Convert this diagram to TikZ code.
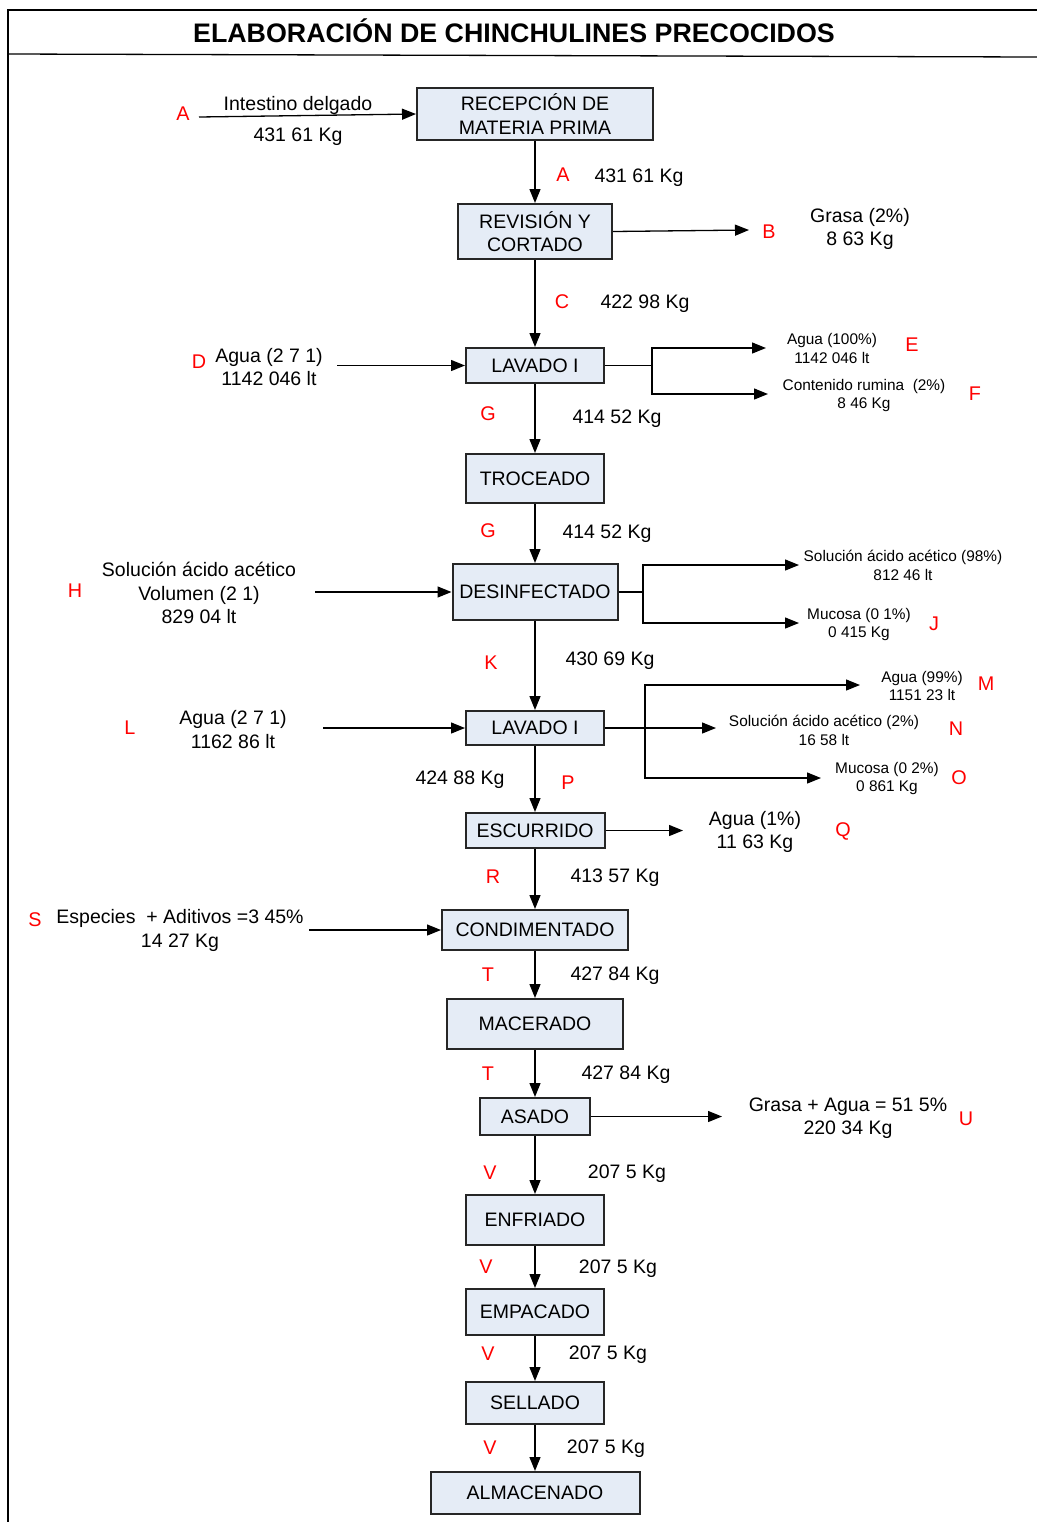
\documentclass[tikz,border=0pt]{standalone}
\usepackage{xcolor}
\usepackage{fontspec}
\setmainfont{Liberation Sans}
\usepackage{tikz}
\usetikzlibrary{arrows.meta}
\definecolor{cajafondo}{RGB}{229,236,246}

\begin{document}
\begin{tikzpicture}[x=0.5pt,y=0.5pt,yscale=-1,xscale=1,
        caja/.style={draw=black!85, line width=1pt, fill=cajafondo, inner sep=2pt, align=center, font=\fontsize{9.75}{11.7}\selectfont},
        texto/.style={inner sep=0.75pt, align=center, yshift=-1pt, font=\fontsize{9.75}{11.7}\selectfont},
        textochico/.style={inner sep=0.75pt, align=center, yshift=-1pt, font=\fontsize{7.7}{9.4}\selectfont},
        letra/.style={inner sep=0.75pt, text=red, yshift=-0.5pt, font=\fontsize{9.9}{11.7}\selectfont},
        flecha/.style={line width=0.65pt, -{Triangle[length=7pt,width=5.5pt]}},
        linea/.style={line width=0.65pt}]
        \useasboundingbox (0,0) rectangle (1037,1522);
        \draw [linea] (8,1522) -- (8,10) -- (1037,10) ;
        \draw [linea] (8,54) -- (1037,57) ;
        \draw (514,31) node [font=\fontsize{13.4}{16}\selectfont\bfseries] (titulo) {ELABORACIÓN DE CHINCHULINES PRECOCIDOS};

        \draw (535,114) node [caja, minimum width=118pt, minimum height=26pt] (rec) {RECEPCIÓN DE\\MATERIA PRIMA};
        \draw (535,231.5) node [caja, minimum width=77pt, minimum height=27.5pt] (rev) {REVISIÓN Y\\CORTADO};
        \draw (535,365.5) node [caja, minimum width=69pt, minimum height=17.5pt] (lav1) {LAVADO I};
        \draw (535,478.5) node [caja, minimum width=69pt, minimum height=24.5pt] (tro) {TROCEADO};
        \draw (535,592) node [caja, minimum width=82.5pt, minimum height=28pt] (des) {DESINFECTADO};
        \draw (535,728) node [caja, minimum width=69pt, minimum height=17pt] (lav2) {LAVADO I};
        \draw (535,830.5) node [caja, minimum width=69.5pt, minimum height=17.5pt] (esc) {ESCURRIDO};
        \draw (535,930) node [caja, minimum width=93pt, minimum height=20pt] (con) {CONDIMENTADO};
        \draw (535,1024) node [caja, minimum width=88pt, minimum height=25pt] (mac) {MACERADO};
        \draw (535,1116.5) node [caja, minimum width=55pt, minimum height=18.5pt] (asa) {ASADO};
        \draw (535,1220) node [caja, minimum width=69pt, minimum height=25pt] (enf) {ENFRIADO};
        \draw (535,1312) node [caja, minimum width=69pt, minimum height=23pt] (emp) {EMPACADO};
        \draw (535,1403) node [caja, minimum width=69pt, minimum height=21pt] (sel) {SELLADO};
        \draw (535,1493) node [caja, minimum width=104.5pt, minimum height=21pt] (alm) {ALMACENADO};

        \draw [flecha] (rec.south) -- (rev.north) ;
        \draw [flecha] (rev.south) -- (lav1.north) ;
        \draw [flecha] (lav1.south) -- (tro.north) ;
        \draw [flecha] (tro.south) -- (des.north) ;
        \draw [flecha] (des.south) -- (lav2.north) ;
        \draw [flecha] (lav2.south) -- (esc.north) ;
        \draw [flecha] (esc.south) -- (con.north) ;
        \draw [flecha] (con.south) -- (mac.north) ;
        \draw [flecha] (mac.south) -- (asa.north) ;
        \draw [flecha] (asa.south) -- (enf.north) ;
        \draw [flecha] (enf.south) -- (emp.north) ;
        \draw [flecha] (emp.south) -- (sel.north) ;
        \draw [flecha] (sel.south) -- (alm.north) ;

        \coordinate (inA) at (199,117) ;
        \coordinate (inD) at (337,365.5) ;
        \coordinate (inH) at (315,592) ;
        \coordinate (inL) at (323,728) ;
        \coordinate (inS) at (309,930) ;
        \draw [flecha] (inA) -- (rec.west) ;
        \draw [flecha] (inD) -- (lav1.west) ;
        \draw [flecha] (inH) -- (des.west) ;
        \draw [flecha] (inL) -- (lav2.west) ;
        \draw [flecha] (inS) -- (con.west) ;

        \coordinate (outB) at (749,230) ;
        \coordinate (nudoE) at (652,365.5) ;
        \coordinate (outE) at (766,348) ;
        \coordinate (outF) at (768,394) ;
        \coordinate (nudoJ) at (643,592) ;
        \coordinate (outI) at (799,565) ;
        \coordinate (outJ) at (799,623) ;
        \coordinate (nudoM) at (645,728) ;
        \coordinate (outM) at (860,685) ;
        \coordinate (outN) at (716,728) ;
        \coordinate (outO) at (821,778) ;
        \coordinate (outQ) at (683,830.5) ;
        \coordinate (outU) at (722,1116.5) ;
        \draw [flecha] (rev.east) -- (outB) ;
        \draw [linea] (lav1.east) -- (nudoE) ;
        \draw [flecha] (nudoE) |- (outE) ;
        \draw [flecha] (nudoE) |- (outF) ;
        \draw [linea] (des.east) -- (nudoJ) ;
        \draw [flecha] (nudoJ) |- (outI) ;
        \draw [flecha] (nudoJ) |- (outJ) ;
        \draw [linea, line width=1.3pt] (lav2.east) -- (nudoM) ;
        \draw [flecha] (nudoM) -- (outN) ;
        \draw [flecha] (nudoM) |- (outM) ;
        \draw [flecha] (nudoM) |- (outO) ;
        \draw [flecha] (esc.east) -- (outQ) ;
        \draw [flecha] (asa.east) -- (outU) ;

        \draw (183,113) node [letra] (lA1) {A};
        \draw (298,103) node [texto] (tA1) {Intestino delgado};
        \draw (298,135) node [texto] (mA1) {431 61 Kg};
        \draw (563,174) node [letra] (lA2) {A};
        \draw (639,176) node [texto] (mA2) {431 61 Kg};
        \draw (769,231) node [letra] (lB) {B};
        \draw (860,227) node [texto] (tB) {Grasa (2\%)\\8 63 Kg};
        \draw (562,301) node [letra] (lC) {C};
        \draw (645,302) node [texto] (mC) {422 98 Kg};
        \draw (199,361) node [letra] (lD) {D};
        \draw (269,365) node [texto] (tD) {Agua (2 7 1)\\1142 046 lt};
        \draw (912,344) node [letra] (lE) {E};
        \draw (832,346.5) node [textochico] (tE) {Agua (100\%)\\1142 046 lt};
        \draw (975,393) node [letra] (lF) {F};
        \draw (864,393.5) node [textochico] (tF) {Contenido rumina~ (2\%)\\8 46 Kg};
        \draw (488,413) node [letra] (lG1) {G};
        \draw (617,417) node [texto] (mG1) {414 52 Kg};
        \draw (488,530) node [letra] (lG2) {G};
        \draw (607,532) node [texto] (mG2) {414 52 Kg};
        \draw (75,590) node [letra] (lH) {H};
        \draw (199,591) node [texto] (tH) {Solución ácido acético\\Volumen (2 1)\\829 04 lt};
        \draw (903,563.5) node [textochico] (tI) {Solución ácido acético (98\%)\\812 46 lt};
        \draw (934,623) node [letra] (lJ) {J};
        \draw (859,622.5) node [textochico] (tJ) {Mucosa (0 1\%)\\0 415 Kg};
        \draw (491,662) node [letra] (lK) {K};
        \draw (610,659) node [texto] (mK) {430 69 Kg};
        \draw (130,727) node [letra] (lL) {L};
        \draw (233,727.5) node [texto] (tL) {Agua (2 7 1)\\1162 86 lt};
        \draw (986,683) node [letra] (lM) {M};
        \draw (922,684) node [textochico] (tM) {Agua (99\%)\\1151 23 lt};
        \draw (956,728) node [letra] (lN) {N};
        \draw (824,728.5) node [textochico] (tN) {Solución ácido acético (2\%)\\16 58 lt};
        \draw (959,777) node [letra] (lO) {O};
        \draw (887,776.5) node [textochico] (tO) {Mucosa (0 2\%)\\0 861 Kg};
        \draw (460,778) node [texto] (mP) {424 88 Kg};
        \draw (568,782) node [letra] (lP) {P};
        \draw (843,830) node [letra] (lQ) {Q};
        \draw (755,830) node [texto] (tQ) {Agua (1\%)\\11 63 Kg};
        \draw (493,876) node [letra] (lR) {R};
        \draw (615,876) node [texto] (mR) {413 57 Kg};
        \draw (35,919) node [letra] (lS) {S};
        \draw (180,928.5) node [texto] (tS) {Especies~ + Aditivos =3 45\%\\14 27 Kg};
        \draw (488,974) node [letra] (lT1) {T};
        \draw (615,974) node [texto] (mT1) {427 84 Kg};
        \draw (488,1073) node [letra] (lT2) {T};
        \draw (626,1073) node [texto] (mT2) {427 84 Kg};
        \draw (966,1118) node [letra] (lU) {U};
        \draw (848,1116) node [texto] (tU) {Grasa + Agua = 51 5\%\\220 34 Kg};
        \draw (490,1172) node [letra] (lV1) {V};
        \draw (627,1172) node [texto] (mV1) {207 5 Kg};
        \draw (486,1266) node [letra] (lV2) {V};
        \draw (618,1267) node [texto] (mV2) {207 5 Kg};
        \draw (488,1353) node [letra] (lV3) {V};
        \draw (608,1353) node [texto] (mV3) {207 5 Kg};
        \draw (490,1447) node [letra] (lV4) {V};
        \draw (606,1447) node [texto] (mV4) {207 5 Kg};

    \end{tikzpicture}
\end{document}
